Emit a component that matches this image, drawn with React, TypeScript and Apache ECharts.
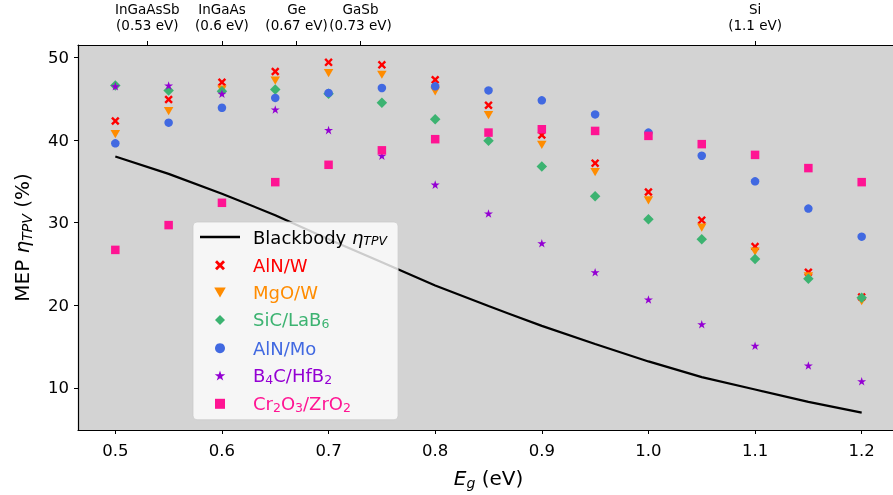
import React, { useEffect, useRef } from "react";
import * as echarts from "echarts";

const FONT = "DejaVu Sans";

const eg = [0.5, 0.55, 0.6, 0.65, 0.7, 0.75, 0.8, 0.85, 0.9, 0.95, 1.0, 1.05, 1.1, 1.15, 1.2];
const blackbody = [38.0, 35.9, 33.5, 30.9, 28.0, 25.2, 22.4, 19.9, 17.5, 15.3, 13.2, 11.3, 9.8, 8.3, 7.0];
const alnW = [42.3, 44.9, 47.0, 48.3, 49.4, 49.1, 47.3, 44.2, 40.6, 37.2, 33.7, 30.3, 27.1, 24.0, 21.0];
const mgoW = [40.7, 43.5, 46.1, 47.2, 48.1, 47.9, 45.9, 43.0, 39.4, 36.1, 32.7, 29.4, 26.5, 23.5, 20.5];
const sicLaB6 = [46.6, 46.0, 45.9, 46.1, 45.6, 44.5, 42.5, 39.9, 36.8, 33.2, 30.4, 28.0, 25.6, 23.2, 20.9];
const alnMo = [39.6, 42.1, 43.9, 45.1, 45.7, 46.3, 46.5, 46.0, 44.8, 43.1, 40.9, 38.1, 35.0, 31.7, 28.3];
const b4cHfB2 = [46.5, 46.6, 45.6, 43.7, 41.2, 38.1, 34.6, 31.1, 27.5, 24.0, 20.7, 17.7, 15.1, 12.7, 10.8];
const cr2o3ZrO2 = [26.7, 29.7, 32.4, 34.9, 37.0, 38.75, 40.1, 40.9, 41.3, 41.1, 40.5, 39.5, 38.2, 36.6, 34.9];

const seriesNames = ["Blackbody", "AlN/W", "MgO/W", "SiC/LaB6", "AlN/Mo", "B4C/HfB2", "Cr2O3/ZrO2"];
const seriesColors = ["#000000", "#ff0000", "#ff8c00", "#3cb371", "#4169e1", "#9400d3", "#ff1493"];

const xTicks = [0.5, 0.6, 0.7, 0.8, 0.9, 1.0, 1.1, 1.2];
const yTicks = [10, 20, 30, 40, 50];
const topTickValues = [0.53, 0.6, 0.67, 0.73, 1.1];
const topTickNames = ["InGaAsSb", "InGaAs", "Ge", "GaSb", "Si"];

const X_PATH = "path://M2,0 L5,3 L8,0 L10,2 L7,5 L10,8 L8,10 L5,7 L2,10 L0,8 L3,5 L0,2 Z";
const TRI_DOWN_PATH = "path://M0,0 L10,0 L5,8.66 Z";
const DIAMOND_PATH = "path://M5,0 L10,5 L5,10 L0,5 Z";
const SQUARE_PATH = "path://M0,0 L10,0 L10,10 L0,10 Z";
const STAR_PATH =
  "path://M50,0 L61.23,34.55 L97.55,34.55 L68.16,55.9 L79.39,90.45 L50,69.1 L20.61,90.45 L31.84,55.9 L2.45,34.55 L38.77,34.55 Z";
const LINE_ICON = "path://M0,0 L40,0 L40,2.4 L0,2.4 Z";

function toRich(name: string): string {
  if (name === "Blackbody") return "{n|Blackbody }{i|η}{si|TPV}";
  const parts = name.match(/\d+|\D+/g) || [];
  return parts.map((p) => (/\d/.test(p) ? `{s|${p}}` : `{n|${p}}`)).join("");
}

export default function App() {
  const ref = useRef<HTMLDivElement>(null);
  useEffect(() => {
    if (!ref.current) return;
    const chart = echarts.init(ref.current, null, { renderer: "svg" });
    const pairs = (ys: number[]) => eg.map((x, i) => [x, ys[i]]);
    const scatterDefs = [
      { data: alnW, symbol: X_PATH, size: 8.5 },
      { data: mgoW, symbol: TRI_DOWN_PATH, size: 9.5 },
      { data: sicLaB6, symbol: DIAMOND_PATH, size: 10.5 },
      { data: alnMo, symbol: "circle", size: 8.5 },
      { data: b4cHfB2, symbol: STAR_PATH, size: 9 },
      { data: cr2o3ZrO2, symbol: SQUARE_PATH, size: 8.5 },
    ];
    const richLegend = {
      n: { fontFamily: FONT, fontSize: 18, lineHeight: 20 },
      i: { fontFamily: FONT, fontSize: 18, fontStyle: "italic", lineHeight: 20 },
      s: { fontFamily: FONT, fontSize: 12.5, verticalAlign: "bottom", lineHeight: 10 },
      si: { fontFamily: FONT, fontSize: 12.5, fontStyle: "italic", verticalAlign: "bottom", lineHeight: 10 },
    };
    const richAxis = {
      n: { fontFamily: FONT, fontSize: 20, lineHeight: 24, color: "#000" },
      i: { fontFamily: FONT, fontSize: 20, fontStyle: "italic", lineHeight: 24, color: "#000" },
      s: { fontFamily: FONT, fontSize: 14, verticalAlign: "bottom", lineHeight: 12, color: "#000" },
      si: { fontFamily: FONT, fontSize: 14, fontStyle: "italic", verticalAlign: "bottom", lineHeight: 12, color: "#000" },
    };
    const axisLine = { show: true, lineStyle: { color: "#000", width: 1.2 } };
    const axisTick = { show: true, length: 4, lineStyle: { color: "#000", width: 1 } };
    const icons = [LINE_ICON, ...scatterDefs.map((d) => d.symbol)];
    const option: any = {
      animation: false,
      grid: {
        left: 78,
        top: 45,
        bottom: 65,
        width: 821,
        show: true,
        backgroundColor: "#d3d3d3",
        borderWidth: 0,
      },
      legend: {
        orient: "vertical",
        left: 193,
        top: 222,
        padding: [6, 11, 6, 7],
        itemWidth: 40,
        itemHeight: 10,
        itemGap: 9.3,
        backgroundColor: "rgba(255,255,255,0.8)",
        borderColor: "rgba(204,204,204,0.8)",
        borderWidth: 1,
        borderRadius: 4,
        textStyle: { fontFamily: FONT, fontSize: 18, padding: [0, 0, 0, 8], rich: richLegend },
        formatter: (name: string) => toRich(name),
        data: seriesNames.map((n, i) => ({
          name: n,
          icon: icons[i],
          itemStyle: { color: seriesColors[i] },
          textStyle: { color: seriesColors[i] },
        })),
      },
      xAxis: [
        {
          type: "value",
          min: 0.465,
          max: 1.235,
          position: "bottom",
          axisLine,
          axisTick: { ...axisTick, customValues: xTicks },
          splitLine: { show: false },
          axisLabel: {
            customValues: xTicks,
            formatter: (v: number) => v.toFixed(1),
            color: "#000",
            fontFamily: FONT,
            fontSize: 16.5,
            margin: 12,
          },
          name: "{i|E}{si|g}{n| (eV)}",
          nameLocation: "middle",
          nameGap: 36,
          nameTextStyle: { rich: richAxis },
        },
        {
          type: "value",
          min: 0.465,
          max: 1.235,
          position: "top",
          axisLine,
          axisTick: { ...axisTick, customValues: topTickValues },
          splitLine: { show: false },
          axisLabel: {
            customValues: topTickValues,
            formatter: (v: number) => {
              const idx = topTickValues.findIndex((t) => Math.abs(t - v) < 1e-6);
              return idx >= 0 ? `${topTickNames[idx]}\n(${topTickValues[idx]} eV)` : "";
            },
            color: "#000",
            fontFamily: FONT,
            fontSize: 13.5,
            lineHeight: 16,
            margin: 12,
          },
        },
      ],
      yAxis: {
        type: "value",
        min: 4.9,
        max: 51.5,
        axisLine,
        axisTick: { ...axisTick, customValues: yTicks },
        splitLine: { show: false },
        axisLabel: {
          customValues: yTicks,
          color: "#000",
          fontFamily: FONT,
          fontSize: 16.5,
          margin: 9,
        },
        name: "{n|MEP }{i|η}{si|TPV}{n| (%)}",
        nameLocation: "middle",
        nameRotate: 90,
        nameGap: 44,
        nameTextStyle: { rich: richAxis },
      },
      series: [
        {
          name: seriesNames[0],
          type: "line",
          data: pairs(blackbody),
          showSymbol: false,
          symbol: "none",
          lineStyle: { color: seriesColors[0], width: 2.2 },
          itemStyle: { color: seriesColors[0] },
          z: 2,
        },
        ...scatterDefs.map((d, i) => ({
          name: seriesNames[i + 1],
          type: "scatter",
          data: pairs(d.data),
          symbol: d.symbol,
          symbolSize: d.size,
          symbolKeepAspect: true,
          itemStyle: { color: seriesColors[i + 1], opacity: 1 },
          z: 3 + i,
        })),
      ],
    };
    chart.setOption(option);
    return () => chart.dispose();
  }, []);
  return (
    <div style={{ position: "fixed", left: 0, top: 0, width: 893, height: 495, overflow: "hidden" }}>
      <div ref={ref} style={{ width: 905, height: 495 }} />
    </div>
  );
}
